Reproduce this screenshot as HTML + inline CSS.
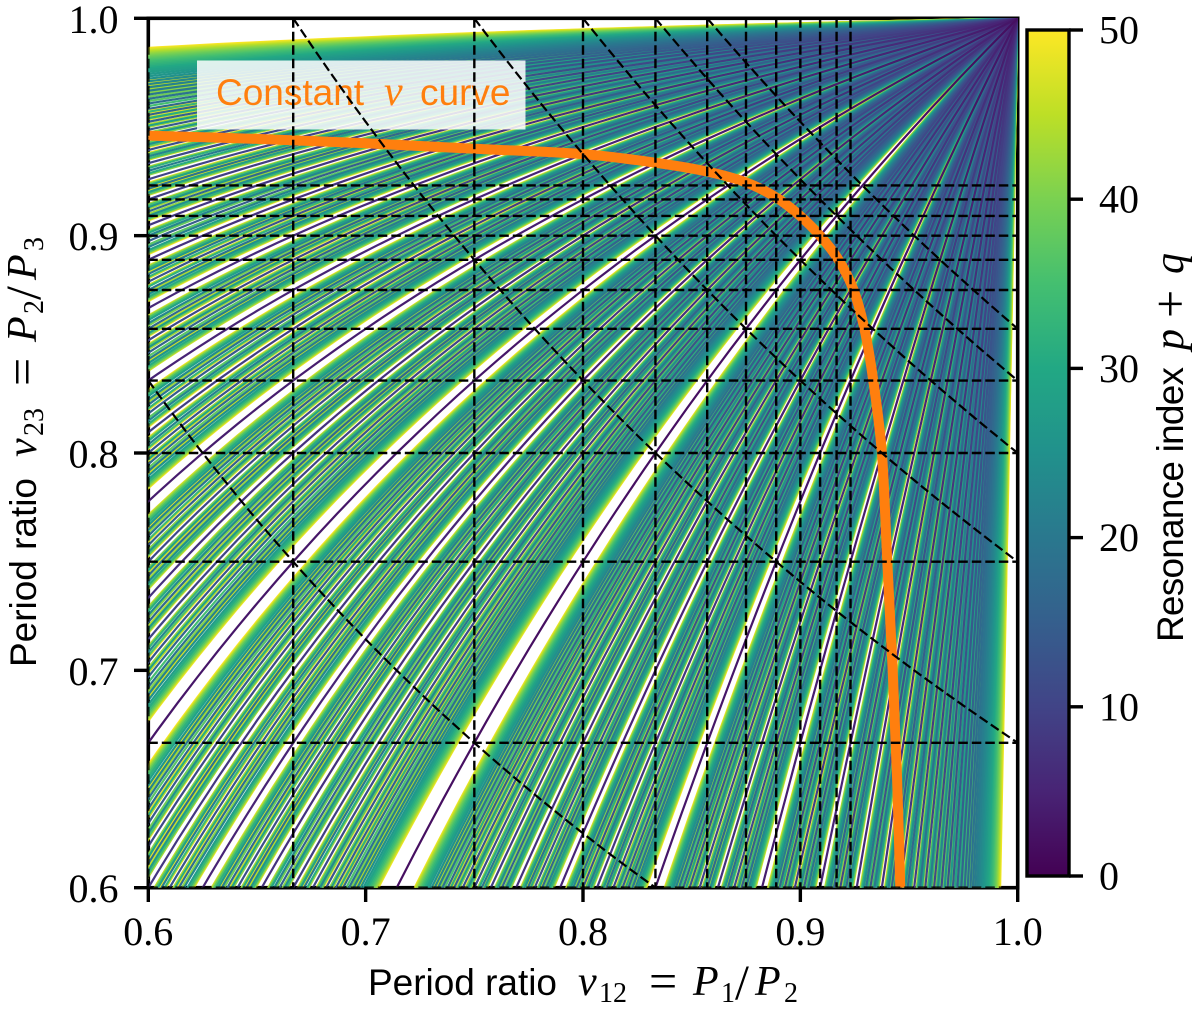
<!DOCTYPE html>
<html lang="en">
<head>
<meta charset="utf-8">
<title>Resonance index chart</title>
<style>
  html, body { margin: 0; padding: 0; background: #fff; }
  svg { display: block; }
  .tick { font-family: "Liberation Serif", serif; font-size: 40px; fill: #000; }
  .sans { font-family: "Liberation Sans", sans-serif; font-size: 37px; fill: #000; }
  .math { font-family: "Liberation Serif", serif; font-style: italic; font-size: 42px; fill: #000; }
  .rm { font-family: "Liberation Serif", serif; font-size: 50px; fill: #000; }
  .slash { font-family: "Liberation Serif", serif; font-size: 50px; fill: #000; }
  .sub { font-family: "Liberation Serif", serif; font-size: 28px; fill: #000; }
</style>
</head>
<body>
<svg id="chart" xmlns="http://www.w3.org/2000/svg" width="1200" height="1012" viewBox="0 0 1200 1012">
  <defs>
    <clipPath id="plot-clip"><rect x="148.3" y="18.3" width="869.4" height="869.4"></rect></clipPath>
    <linearGradient id="viridis-gradient" x1="0" y1="1" x2="0" y2="0"></linearGradient>
  </defs>
  <rect x="0" y="0" width="1200" height="1012" fill="#fff"></rect>
  <g id="axes-frame"></g>
  <g id="curves" clip-path="url(#plot-clip)" fill="none" stroke-width="2.2"></g>
  <g id="orange-layer" clip-path="url(#plot-clip)"></g>
  <g>
    <rect x="197" y="60.5" width="328.5" height="69" fill="#fff" fill-opacity="0.85"></rect>
    <text class="sans" x="216" y="105" style="fill:#ff7f0e">Constant</text>
    <text class="math" x="384" y="105" style="fill:#ff7f0e">ν</text>
    <text class="sans" x="420" y="105" style="fill:#ff7f0e">curve</text>
  </g>
  <g id="dashes" clip-path="url(#plot-clip)" fill="none" stroke="#000" stroke-width="2.4" stroke-dasharray="9.5 4"></g>
  <g id="ticks"></g>

  <g transform="translate(368,995)">
    <text class="sans" x="0" y="0" textLength="189" lengthAdjust="spacing">Period ratio</text>
    <text class="math" x="210" y="0">ν</text>
    <text class="sub" x="231" y="7">12</text>
    <text class="rm" x="281" y="3">=</text>
    <text class="math" x="325" y="0">P</text>
    <text class="sub" x="353" y="7">1</text>
    <text class="slash" x="367" y="4">/</text>
    <text class="math" x="387" y="0">P</text>
    <text class="sub" x="416" y="7">2</text>
  </g>
  <g transform="translate(36,667) rotate(-90)">
    <text class="sans" x="0" y="0" textLength="189" lengthAdjust="spacing">Period ratio</text>
    <text class="math" x="210" y="0">ν</text>
    <text class="sub" x="231" y="7">23</text>
    <text class="rm" x="281" y="3">=</text>
    <text class="math" x="325" y="0">P</text>
    <text class="sub" x="353" y="7">2</text>
    <text class="slash" x="367" y="4">/</text>
    <text class="math" x="387" y="0">P</text>
    <text class="sub" x="416" y="7">3</text>
  </g>

  <g id="colorbar"></g>
  <g transform="translate(1183,642) rotate(-90)">
    <text class="sans" x="0" y="0" textLength="275" lengthAdjust="spacing">Resonance index</text>
    <text class="math" x="292" y="0">p</text>
    <text class="rm" x="324" y="4">+</text>
    <text class="math" x="368" y="0">q</text>
  </g>
</svg>
<script>
// ---- chart data ----
const resonanceIndices = [2,3,4,5,6,7,8,9,10,11,12,13,14,15,16,17,18,19,20,21,22,23,24,25,26,27,28,29,30,31,32,33,34,35,36,37,38,39,40,41,42,43,44,45,46,47,48,49,50];
const gridRatios = [0.6,0.66667,0.75,0.8,0.83333,0.85714,0.875,0.88889,0.9,0.90909,0.91667,0.92308];
const outerRatios = [0.5,0.66667,0.75,0.8,0.83333,0.85714];
const nuCurveX = [0.6,0.65,0.7,0.75,0.8,0.8335,0.857,0.875,0.889,0.9,0.909,0.9175,0.9245,0.9295,0.9335,0.9375,0.94,0.9425,0.9445,0.946];
const nuCurveY = [0.946,0.9445,0.9425,0.94,0.9375,0.9335,0.9295,0.9245,0.9175,0.909,0.9,0.889,0.875,0.857,0.8335,0.8,0.75,0.7,0.65,0.6];
const xTicks = [0.6,0.7,0.8,0.9,1.0];
const yTicks = [0.6,0.7,0.8,0.9,1.0];
const tickLabels = ["0.6","0.7","0.8","0.9","1.0"];
const colorTicks = [0,10,20,30,40,50];
const viridisStops = ["#440154","#482475","#414487","#355f8d","#2a788e","#21918c","#22a884","#44bf70","#7ad151","#bddf26","#fde725"];

// ---- scales ----
const NS = "http://www.w3.org/2000/svg";
const sx = v => 148.3 + (v - 0.6) / 0.4 * 869.4;
const sy = v => 887.7 - (v - 0.6) / 0.4 * 869.4;
const cy = v => 876 - v / 50 * 846;
function hexToRgb(h) { return [1,3,5].map(i => parseInt(h.substr(i,2),16)); }
function viridis(t) {
  const f = Math.max(0, Math.min(1, t)) * (viridisStops.length - 1);
  const i = Math.min(Math.floor(f), viridisStops.length - 2);
  const a = hexToRgb(viridisStops[i]), b = hexToRgb(viridisStops[i+1]);
  const k = f - i;
  return "rgb(" + a.map((c,j) => Math.round(c + (b[j]-c)*k)).join(",") + ")";
}
function gcd(a,b) { return b ? gcd(b, a % b) : a; }
function make(tag, attrs, parent) {
  const el = document.createElementNS(NS, tag);
  for (const k in attrs) el.setAttribute(k, attrs[k]);
  parent.appendChild(el);
  return el;
}

// ---- frame (drawn beneath the curves, as in the reference) ----
const frame = document.getElementById("axes-frame");
const frameRect = make("rect", {x:148.3, y:18.3, width:869.4, height:869.4, fill:"none", stroke:"#000", "stroke-width":3.6}, frame);



// ---- resonance curves: p(1/x - 1) = q(1 - y); low index on top ----
const curvesGroup = document.getElementById("curves");
const SAMPLES = 44;
[...resonanceIndices].sort((a,b) => b - a).forEach(index => {
  const color = viridis(index / 50);
  for (let p = 1; p < index; p++) {
    const q = index - p;
    if (gcd(p, q) !== 1) continue;
    const ratio = p / q;
    const xStart = Math.max(0.595, 1 / (1 + 0.41 / ratio));
    let d = "";
    for (let i = 0; i <= SAMPLES; i++) {
      const x = xStart + (1 - xStart) * i / SAMPLES;
      const y = 1 - ratio * (1 / x - 1);
      d += (i ? "L" : "M") + sx(x).toFixed(1) + " " + sy(y).toFixed(1);
    }
    const path = make("path", {d: d, stroke: color}, curvesGroup);
    
    
  }
});

// ---- constant nu curve ----
const orangeLayer = document.getElementById("orange-layer");
let orangeD = "M" + sx(nuCurveX[0]) + " " + sy(nuCurveY[0]);
for (let i = 0; i < nuCurveX.length - 1; i++) {
  const i0 = Math.max(i - 1, 0), i3 = Math.min(i + 2, nuCurveX.length - 1);
  const x0 = sx(nuCurveX[i0]), y0 = sy(nuCurveY[i0]);
  const x1 = sx(nuCurveX[i]), y1 = sy(nuCurveY[i]);
  const x2 = sx(nuCurveX[i+1]), y2 = sy(nuCurveY[i+1]);
  const x3 = sx(nuCurveX[i3]), y3 = sy(nuCurveY[i3]);
  orangeD += "C" + (x1 + (x2-x0)/6).toFixed(1) + " " + (y1 + (y2-y0)/6).toFixed(1) + " " +
             (x2 - (x3-x1)/6).toFixed(1) + " " + (y2 - (y3-y1)/6).toFixed(1) + " " +
             x2.toFixed(1) + " " + y2.toFixed(1);
}
const orangePath = make("path", {d: orangeD, fill:"none", stroke:"#ff7f0e", "stroke-width":10}, orangeLayer);



// ---- dashed two-planet resonance lines ----
const dashes = document.getElementById("dashes");
gridRatios.forEach(r => {
  const v = make("line", {x1:sx(r), x2:sx(r), y1:sy(1), y2:sy(0.6)}, dashes);
  
  
  const h = make("line", {x1:sx(0.6), x2:sx(1), y1:sy(r), y2:sy(r)}, dashes);
  
  
});
outerRatios.forEach(r => {
  let d = "";
  const xa = Math.max(0.6, r), xb = Math.min(1, r / 0.6);
  for (let i = 0; i <= 40; i++) {
    const x = xa + (xb - xa) * i / 40;
    d += (i ? "L" : "M") + sx(x).toFixed(1) + " " + sy(r / x).toFixed(1);
  }
  const c = make("path", {d: d, "stroke-width":2.2}, dashes);
  
  
});

// ---- ticks ----
const ticks = document.getElementById("ticks");
xTicks.forEach((v,i) => {
  const t = make("line", {x1:sx(v), x2:sx(v), y1:887.7, y2:902, stroke:"#000", "stroke-width":3.4}, ticks);
  
  
  const l = make("text", {x:sx(v), y:945, "text-anchor":"middle", class:"tick"}, ticks);
  
  
  l.textContent = tickLabels[i];
});
yTicks.forEach((v,i) => {
  const t = make("line", {x1:134, x2:148.3, y1:sy(v), y2:sy(v), stroke:"#000", "stroke-width":3.4}, ticks);
  
  
  const l = make("text", {x:118.5, y:sy(v) + 14.5, "text-anchor":"end", class:"tick"}, ticks);
  
  
  l.textContent = tickLabels[i];
});

// ---- colorbar ----
const grad = document.getElementById("viridis-gradient");
viridisStops.forEach((c,i) => {
  make("stop", {offset: i / (viridisStops.length - 1), "stop-color": c}, grad);
});
const cb = document.getElementById("colorbar");
const cbFill = make("rect", {x:1027, y:30, width:42, height:846, fill:"url(#viridis-gradient)", stroke:"#000", "stroke-width":3.4}, cb);


colorTicks.forEach(v => {
  const t = make("line", {x1:1069, x2:1083, y1:cy(v), y2:cy(v), stroke:"#000", "stroke-width":3.4}, cb);
  
  
  const l = make("text", {x:1099, y:cy(v) + 13.5, class:"tick"}, cb);
  
  
  l.textContent = String(v);
});
</script>
</body>
</html>
